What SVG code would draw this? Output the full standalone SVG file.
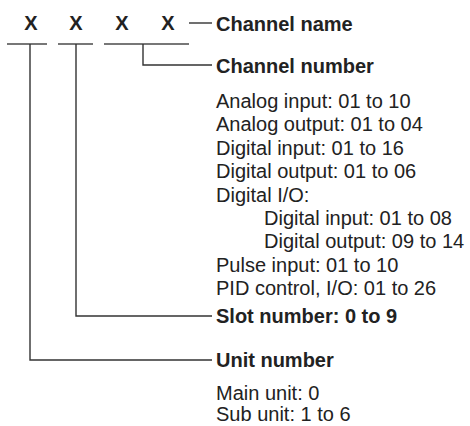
<svg xmlns="http://www.w3.org/2000/svg" width="470" height="426" viewBox="0 0 470 426">
<style>
text{font-family:"Liberation Sans",Arial,sans-serif;font-size:20px;fill:#222}
.b{font-weight:bold}
.x{font-weight:bold;text-anchor:middle}
.c{fill:none;stroke:#333;stroke-width:1.4}
.u{fill:none;stroke:#777;stroke-width:2}
</style>
<rect width="470" height="426" fill="#fff"/>
<g id="code">
<text class="x" x="31" y="30">X</text>
<text class="x" x="76" y="30">X</text>
<text class="x" x="122" y="30">X</text>
<text class="x" x="168" y="30">X</text>
<path class="u" d="M7 44H47M58 44H93M104 44H189"/>
</g>
<g id="connectors">
<path class="c" d="M189 23H212"/>
<path class="c" d="M143 44V65H212"/>
<path class="c" d="M76 44V316H212"/>
<path class="c" d="M30 44V360H212"/>
</g>
<g id="channel-name"><text class="b" x="216" y="31">Channel name</text></g>
<g id="channel-number">
<text class="b" x="216" y="73">Channel number</text>
<text x="216" y="108">Analog input: 01 to 10</text>
<text x="216" y="131.4">Analog output: 01 to 04</text>
<text x="216" y="154.8">Digital input: 01 to 16</text>
<text x="216" y="178.2">Digital output: 01 to 06</text>
<text x="216" y="201.6">Digital I/O:</text>
<text x="264" y="225">Digital input: 01 to 08</text>
<text x="264" y="248.4">Digital output: 09 to 14</text>
<text x="216" y="271.8">Pulse input: 01 to 10</text>
<text x="216" y="295.2">PID control, I/O: 01 to 26</text>
</g>
<g id="slot-number"><text class="b" x="216" y="323">Slot number: 0 to 9</text></g>
<g id="unit-number">
<text class="b" x="216" y="367">Unit number</text>
<text x="216" y="400">Main unit: 0</text>
<text x="216" y="421">Sub unit: 1 to 6</text>
</g>
</svg>
